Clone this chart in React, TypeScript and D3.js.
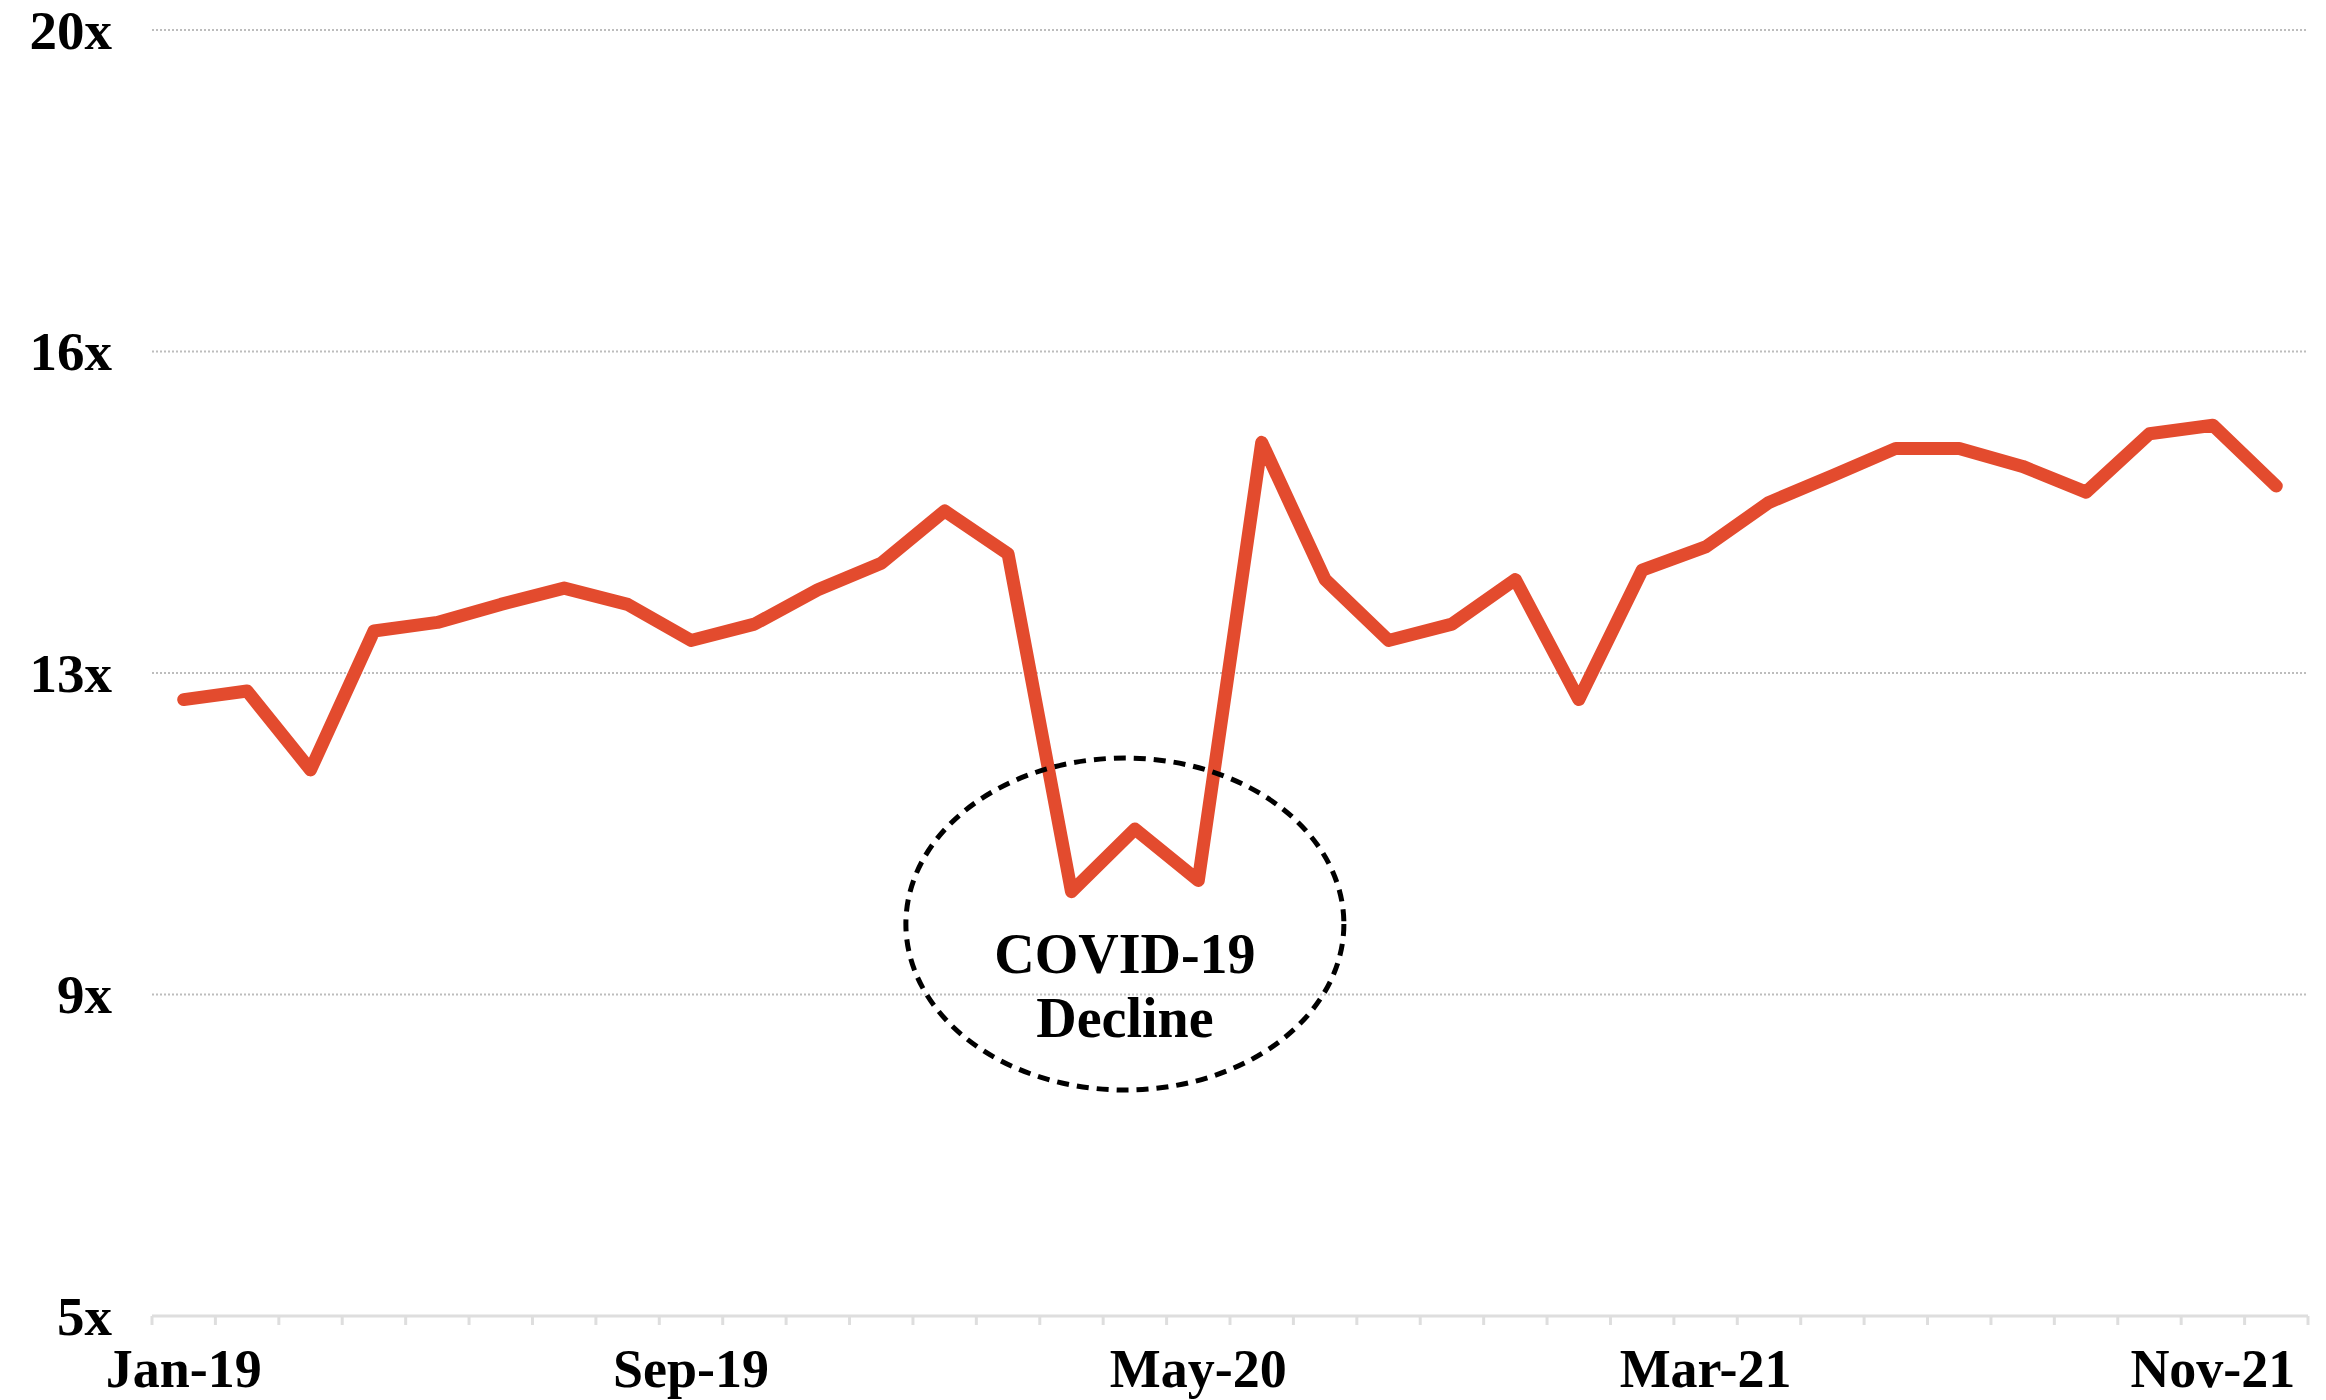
import React from "react";
import * as d3 from "d3";

const categories: string[] = [
  "Jan-19", "Feb-19", "Mar-19", "Apr-19", "May-19", "Jun-19", "Jul-19", "Aug-19",
  "Sep-19", "Oct-19", "Nov-19", "Dec-19", "Jan-20", "Feb-20", "Mar-20", "Apr-20",
  "May-20", "Jun-20", "Jul-20", "Aug-20", "Sep-20", "Oct-20", "Dec-20", "Feb-21",
  "Mar-21", "Apr-21", "May-21", "Jun-21", "Jul-21", "Aug-21", "Sep-21", "Oct-21",
  "Nov-21", "Dec-21",
];

const multiples: number[] = [
  12.19, 12.29, 11.37, 12.99, 13.09, 13.3, 13.49, 13.3,
  12.88, 13.07, 13.47, 13.78, 14.39, 13.89, 9.95, 10.68,
  10.08, 15.19, 13.59, 12.88, 13.07, 13.59, 12.19, 13.7,
  13.97, 14.49, 14.8, 15.12, 15.12, 14.91, 14.61, 15.29,
  15.39, 14.68,
];

const xTickLabels: string[] = ["Jan-19", "Sep-19", "May-20", "Mar-21", "Nov-21"];
const yTicks: number[] = [5, 8.75, 12.5, 16.25, 20];
const annotationLines: string[] = ["COVID-19", "Decline"];
const annotationCategory = "Apr-20";

const W = 2326;
const H = 1400;
const LEFT = 152;
const RIGHT = 2308;
const TOP = 30;
const BOTTOM = 1316;
const FONT = "'Liberation Serif', 'DejaVu Serif', serif";

export default function App() {
  const x = d3.scaleBand<string>().domain(categories).range([LEFT, RIGHT]).padding(0);
  const y = d3.scaleLinear().domain([5, 20]).range([BOTTOM, TOP]);
  const bw = x.bandwidth();
  const cx = (c: string) => (x(c) as number) + bw / 2;

  const line = d3
    .line<number>()
    .x((_, i) => cx(categories[i]))
    .y((d) => y(d));

  const boundaries = d3.range(categories.length + 1).map((i) => LEFT + i * bw);

  const annX = cx(annotationCategory) - 10;
  const ellCy = 924;

  return (
    <svg
      width={W}
      height={H}
      style={{ position: "absolute", left: 0, top: 0, background: "#fff" }}
    >
      {yTicks.slice(1).map((t) => (
        <line
          key={"g" + t}
          x1={LEFT}
          x2={RIGHT}
          y1={y(t)}
          y2={y(t)}
          stroke="#bdbdbd"
          strokeWidth={2}
          strokeDasharray="2 2"
        />
      ))}
      {yTicks.map((t) => (
        <text
          key={"yl" + t}
          x={112}
          y={y(t)}
          dy="0.34em"
          textAnchor="end"
          fontFamily={FONT}
          fontWeight="bold"
          fontSize={55}
          fill="#000"
        >
          {Math.round(t) + "x"}
        </text>
      ))}
      <line x1={LEFT} x2={RIGHT} y1={BOTTOM} y2={BOTTOM} stroke="#dedede" strokeWidth={3} />
      {boundaries.map((bx, i) => (
        <line key={"t" + i} x1={bx} x2={bx} y1={BOTTOM} y2={BOTTOM + 9} stroke="#dedede" strokeWidth={3} />
      ))}
      {xTickLabels.map((c) => (
        <text
          key={"xl" + c}
          x={cx(c)}
          y={1387}
          textAnchor="middle"
          fontFamily={FONT}
          fontWeight="bold"
          fontSize={54}
          fill="#000"
        >
          {c}
        </text>
      ))}
      <path
        d={line(multiples) || ""}
        fill="none"
        stroke="#e34b2e"
        strokeWidth={13}
        strokeLinejoin="round"
        strokeLinecap="round"
      />
      <ellipse
        cx={annX}
        cy={ellCy}
        rx={219}
        ry={166}
        fill="none"
        stroke="#000"
        strokeWidth={5}
        strokeDasharray="12 8"
      />
      {annotationLines.map((s, i) => (
        <text
          key={"a" + i}
          x={annX}
          y={973 + i * 64}
          textAnchor="middle"
          fontFamily={FONT}
          fontWeight="bold"
          fontSize={56}
          fill="#000"
        >
          {s}
        </text>
      ))}
    </svg>
  );
}
